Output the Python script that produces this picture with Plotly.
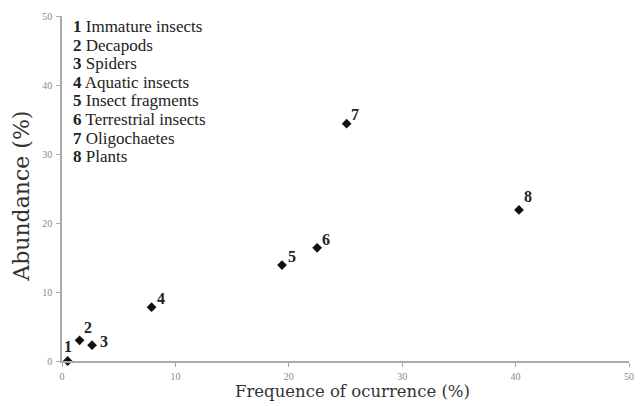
import plotly.graph_objects as go

labels = ["1", "2", "3", "4", "5", "6", "7", "8"]
names = ["Immature insects", "Decapods", "Spiders", "Aquatic insects",
         "Insect fragments", "Terrestrial insects", "Oligochaetes", "Plants"]
frequency = [0.5, 1.55, 2.65, 7.9, 19.4, 22.5, 25.1, 40.3]
abundance = [0.0, 3.0, 2.3, 7.8, 13.9, 16.4, 34.4, 21.9]
ticks = [0, 10, 20, 30, 40, 50]
x_title = "Frequence of ocurrence (%)"
y_title = "Abundance (%)"

# pixel offsets of the number labels relative to their markers (layout only)
label_offsets = [(0, 15), (8, 13), (12, 4), (9, 9), (10, 9), (9, 8), (8, 9), (9, 13)]

FONT = "Liberation Serif"
TITLE_FONT = "DejaVu Serif"

fig = go.Figure()
fig.add_trace(go.Scatter(
    x=frequency, y=abundance, mode="markers",
    marker=dict(symbol="diamond", size=7.5, color="#111"),
    cliponaxis=False, showlegend=False,
))

for lab, fx, ay, (dx, dy) in zip(labels, frequency, abundance, label_offsets):
    fig.add_annotation(
        x=fx, y=ay, text=f"<b>{lab}</b>", showarrow=False,
        xshift=dx, yshift=dy, font=dict(family=FONT, size=16, color="#222"),
    )

# legend block: one line per item, 18.6 px apart
for i, (lab, name) in enumerate(zip(labels, names)):
    fig.add_annotation(
        xref="paper", yref="paper", x=0.016, y=1.0, xanchor="left", yanchor="middle",
        yshift=-(10.5 + 18.6 * i), text=f"<b>{lab}</b> {name}", showarrow=False,
        align="left", font=dict(family=FONT, size=17, color="#222"),
    )

# axis titles
fig.add_annotation(xref="paper", yref="paper", x=0.512, y=-0.088,
                   xanchor="center", yanchor="middle", text=x_title, showarrow=False,
                   font=dict(family=TITLE_FONT, size=16.5, color="#333"))
fig.add_annotation(xref="paper", yref="paper", x=-0.073, y=0.478,
                   xanchor="center", yanchor="middle", text=y_title, showarrow=False,
                   textangle=-90, font=dict(family=TITLE_FONT, size=22, color="#333"))

axis_common = dict(
    range=[0, 50], tickvals=ticks, showgrid=False, zeroline=False,
    showline=True, linecolor="#aaa", linewidth=1.5,
    ticks="outside", ticklen=4, tickcolor="#aaa",
    tickfont=dict(family=FONT, size=10, color="#888"),
)
fig.update_xaxes(**axis_common, ticklabelstandoff=1)
fig.update_yaxes(**axis_common, ticklabelstandoff=2)

fig.update_layout(
    width=644, height=406,
    margin=dict(l=62, r=10, t=16, b=45),
    paper_bgcolor="white", plot_bgcolor="white",
    font=dict(family=FONT),
)
fig.write_html("out.html")
